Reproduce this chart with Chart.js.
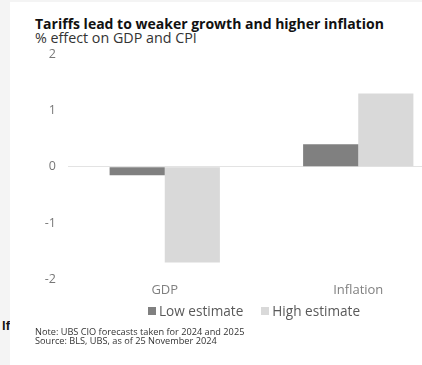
<!DOCTYPE html>
<html>
<head>
<meta charset="utf-8">
<script src="https://cdn.jsdelivr.net/npm/chart.js@4.4.0/dist/chart.umd.min.js"></script>
<style>
  html, body { margin: 0; padding: 0; }
  body { width: 422px; height: 365px; overflow: hidden; position: relative; background: #ffffff; font-family: "Open Sans", "Noto Sans", sans-serif; }
  #edgeLeft { position: absolute; left: 0; top: 0; width: 10px; height: 365px; background: #f4f4f4; }
  #edgeTop { position: absolute; left: 0; top: 0; width: 422px; height: 2px; background: #f4f4f4; }
  #stray { position: absolute; left: -6px; top: 318px; font: bold 13px "Liberation Sans", Arial, sans-serif; color: #111; width: 16px; overflow: hidden; text-align: right; }
  #title { position: absolute; left: 35px; top: 14px; font-weight: 700; font-size: 14px; line-height: 19px; color: #111; white-space: nowrap; }
  #subtitle { position: absolute; left: 35px; top: 27.5px; font-size: 14.3px; line-height: 20px; color: #333; white-space: nowrap; }
  #wrap { position: absolute; left: 0; top: 0; width: 460px; height: 303px; }
  #legend { position: absolute; left: 148px; top: 301px; font-size: 13.6px; line-height: 20px; color: #595959; white-space: nowrap; display: flex; align-items: center; }
  #legend .item { display: flex; align-items: center; margin-right: 18px; }
  #legend .box { width: 8px; height: 8px; margin-right: 3px; }
  #notes { position: absolute; left: 35px; top: 327px; font-size: 9.2px; line-height: 9px; color: #333; white-space: nowrap; }
</style>
</head>
<body>
<div id="edgeLeft"></div>
<div id="edgeTop"></div>
<div id="stray">lf</div>
<div id="title">Tariffs lead to weaker growth and higher inflation</div>
<div id="subtitle">% effect on GDP and CPI</div>
<div id="wrap"><canvas id="chart" width="460" height="303"></canvas></div>
<div id="legend"></div>
<div id="notes">Note: UBS CIO forecasts taken for 2024 and 2025<br>Source: BLS, UBS, as of 25 November 2024</div>
<script>
// Categories and series (% effect)
const categories = ["GDP", "Inflation"];
const lowEstimate = [-0.15, 0.4];
const highEstimate = [-1.7, 1.3];
const yTickValues = [-2, -1, 0, 1, 2];
const seriesNames = ["Low estimate", "High estimate"];
const seriesColors = ["#808080", "#d9d9d9"];

const chart = new Chart(document.getElementById("chart"), {
  type: "bar",
  data: {
    labels: categories,
    datasets: [
      { label: seriesNames[0], data: lowEstimate, backgroundColor: seriesColors[0] },
      { label: seriesNames[1], data: highEstimate, backgroundColor: seriesColors[1] }
    ]
  },
  options: {
    responsive: false,
    animation: false,
    devicePixelRatio: 1,
    layout: { padding: { top: 54, bottom: 2, left: 0, right: 5 } },
    datasets: { bar: { categoryPercentage: 0.57, barPercentage: 1.0 } },
    plugins: { legend: { display: false }, tooltip: { enabled: false }, title: { display: false } },
    scales: {
      x: {
        grid: { display: false, drawTicks: false },
        border: { display: false },
        ticks: { color: "#808080", font: { family: "Open Sans", size: 13 }, padding: 3 }
      },
      y: {
        min: -2, max: 2,
        afterFit: s => { s.width = 68; },
        afterBuildTicks: s => { s.ticks = yTickValues.map(v => ({ value: v })); },
        grid: {
          drawTicks: false,
          color: c => (c.tick && c.tick.value === 0 ? "#e3e3e3" : "rgba(0,0,0,0)"),
          lineWidth: 1
        },
        border: { display: false },
        ticks: { color: "#777777", font: { family: "Open Sans", size: 12.5 }, padding: 12, callback: v => String(v) }
      }
    }
  }
});

// Legend built from the chart's datasets
const legend = document.getElementById("legend");
chart.data.datasets.forEach(ds => {
  const item = document.createElement("span");
  item.className = "item";
  const box = document.createElement("span");
  box.className = "box";
  box.style.background = ds.backgroundColor;
  const txt = document.createElement("span");
  txt.textContent = ds.label;
  item.appendChild(box);
  item.appendChild(txt);
  legend.appendChild(item);
});
</script>
</body>
</html>
